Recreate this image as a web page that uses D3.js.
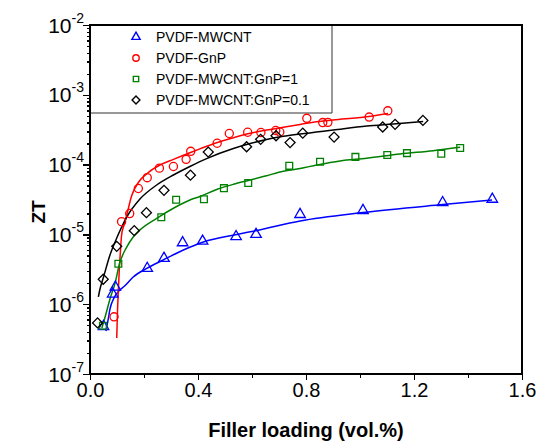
<!DOCTYPE html>
<meta charset="utf-8">
<style>
body { margin: 0; background: #fff; }
.chart text { font-family: Arial, "Liberation Sans", sans-serif; fill: #000; }
.axis path { display: none; }
.axis line { stroke: #000; stroke-width: 1.5; shape-rendering: crispEdges; }
</style>
<svg class="chart" width="536" height="442"></svg>
<script src="https://d3js.org/d3.v7.min.js"></script>
<script>

// measured points (filler loading vol.%, ZT)
var mwcntX = [0.050, 0.084, 0.094, 0.212, 0.274, 0.343, 0.417, 0.541, 0.615, 0.778, 1.011, 1.306, 1.490];
var mwcntY = [4.8e-7, 1.4e-6, 1.76e-6, 3.27e-6, 4.55e-6, 7.6e-6, 8.0e-6, 9.3e-6, 1.0e-5, 1.93e-5, 2.2e-5, 2.86e-5, 3.19e-5];

var gnpX = [0.089, 0.117, 0.147, 0.179, 0.212, 0.257, 0.309, 0.356, 0.373, 0.471, 0.516, 0.584, 0.633, 0.688, 0.703, 0.803, 0.862, 0.881, 1.034, 1.103];
var gnpY = [6.6e-7, 1.52e-5, 1.99e-5, 4.55e-5, 6.5e-5, 8.9e-5, 9.4e-5, 1.19e-4, 1.55e-4, 2.02e-4, 2.79e-4, 2.91e-4, 2.88e-4, 3.08e-4, 2.93e-4, 4.6e-4, 4.0e-4, 4.03e-4, 4.8e-4, 5.9e-4];

var hyb1X = [0.048, 0.105, 0.264, 0.319, 0.422, 0.496, 0.586, 0.738, 0.852, 0.983, 1.101, 1.174, 1.301, 1.371];
var hyb1Y = [4.9e-7, 3.8e-6, 1.76e-5, 3.14e-5, 3.18e-5, 4.6e-5, 5.44e-5, 9.6e-5, 1.10e-4, 1.29e-4, 1.37e-4, 1.46e-4, 1.43e-4, 1.73e-4];

var hyb01X = [0.028, 0.049, 0.099, 0.164, 0.209, 0.274, 0.372, 0.438, 0.580, 0.632, 0.689, 0.741, 0.788, 0.904, 1.084, 1.130, 1.233];
var hyb01Y = [5.4e-7, 2.28e-6, 6.75e-6, 1.13e-5, 2.05e-5, 4.28e-5, 7.05e-5, 1.51e-4, 1.80e-4, 2.30e-4, 2.59e-4, 2.07e-4, 2.82e-4, 2.48e-4, 3.46e-4, 3.77e-4, 4.3e-4];

// fitted curves
var mwcntFitX = [0.059, 0.067, 0.074, 0.089, 0.111, 0.126, 0.160, 0.210, 0.271, 0.346, 0.420, 0.544, 0.619, 0.778, 1.011, 1.307, 1.489];
var mwcntFitY = [4.13e-7, 5.94e-7, 8.53e-7, 1.23e-6, 1.60e-6, 1.79e-6, 2.45e-6, 3.25e-6, 4.30e-6, 5.98e-6, 7.78e-6, 9.97e-6, 1.14e-5, 1.56e-5, 2.06e-5, 2.68e-5, 3.11e-5];

var gnpFitX = [0.099, 0.102, 0.105, 0.109, 0.113, 0.117, 0.126, 0.137, 0.154, 0.179, 0.216, 0.259, 0.309, 0.370, 0.407, 0.469, 0.531, 0.593, 0.654, 0.716, 0.778, 0.840, 0.900, 1.025, 1.104];
var gnpFitY = [3.28e-7, 8.26e-7, 1.60e-6, 3.41e-6, 5.98e-6, 9.80e-6, 1.36e-5, 1.96e-5, 3.55e-5, 5.54e-5, 7.71e-5, 9.87e-5, 1.19e-4, 1.48e-4, 1.68e-4, 2.06e-4, 2.43e-4, 2.81e-4, 3.13e-4, 3.42e-4, 3.76e-4, 4.12e-4, 4.36e-4, 4.86e-4, 5.40e-4];

var hyb1FitX = [0.044, 0.059, 0.074, 0.093, 0.109, 0.136, 0.160, 0.185, 0.247, 0.309, 0.370, 0.407, 0.469, 0.531, 0.593, 0.654, 0.716, 0.778, 0.840, 0.926, 1.025, 1.148, 1.271, 1.371];
var hyb1FitY = [4.56e-7, 7.24e-7, 1.19e-6, 2.01e-6, 3.77e-6, 6.59e-6, 9.18e-6, 1.16e-5, 1.70e-5, 2.37e-5, 3.11e-5, 3.49e-5, 4.40e-5, 5.22e-5, 6.01e-5, 6.93e-5, 8.02e-5, 8.79e-5, 9.87e-5, 1.13e-4, 1.23e-4, 1.42e-4, 1.58e-4, 1.77e-4];

var hyb01FitX = [0.031, 0.037, 0.049, 0.074, 0.099, 0.136, 0.185, 0.247, 0.309, 0.370, 0.432, 0.531, 0.593, 0.654, 0.716, 0.778, 0.901, 1.025, 1.123, 1.234];
var hyb01FitY = [1.27e-6, 1.65e-6, 2.37e-6, 5.07e-6, 8.87e-6, 1.77e-5, 3.21e-5, 5.10e-5, 7.10e-5, 9.40e-5, 1.22e-4, 1.70e-4, 2.00e-4, 2.29e-4, 2.54e-4, 2.74e-4, 3.13e-4, 3.57e-4, 3.82e-4, 4.14e-4];

var seriesNames = ["PVDF-MWCNT", "PVDF-GnP", "PVDF-MWCNT:GnP=1", "PVDF-MWCNT:GnP=0.1"];
var xTicks = [0, 0.4, 0.8, 1.2, 1.6];
var xMinor = [0.2, 0.6, 1.0, 1.4];
var yExponents = [-2, -3, -4, -5, -6, -7];

var series = [
  {name: seriesNames[0], xs: mwcntX, ys: mwcntY, fx: mwcntFitX, fy: mwcntFitY, color: "#0000ff", shape: "triangle"},
  {name: seriesNames[1], xs: gnpX, ys: gnpY, fx: gnpFitX, fy: gnpFitY, color: "#ff0000", shape: "circle"},
  {name: seriesNames[2], xs: hyb1X, ys: hyb1Y, fx: hyb1FitX, fy: hyb1FitY, color: "#008000", shape: "square"},
  {name: seriesNames[3], xs: hyb01X, ys: hyb01Y, fx: hyb01FitX, fy: hyb01FitY, color: "#000000", shape: "diamond"}
];

var plotL = 90, plotR = 522, plotT = 25, plotB = 374;
var legW = 242, legH = 88;

var x = d3.scaleLinear().domain([0, 1.6]).range([plotL, plotR]);
var y = d3.scaleLog().domain([1e-7, 1e-2]).range([plotB, plotT]);

var svg = d3.select(".chart");

// y axis, major + minor log ticks
var yMinor = [];
yExponents.forEach(function(e) {
  if (e === -2) return;
  for (var k = 2; k <= 9; k++) yMinor.push(k * Math.pow(10, e));
});

svg.append("g").attr("class", "axis")
  .attr("transform", "translate(" + plotL + ",0)")
  .call(d3.axisLeft(y).tickValues(yMinor).tickSize(3).tickFormat(""));
svg.append("g").attr("class", "axis")
  .attr("transform", "translate(" + plotL + ",0)")
  .call(d3.axisLeft(y).tickValues(yExponents.map(function(e) { return Math.pow(10, e); })).tickSize(7).tickFormat(""));

var ylab = svg.append("g").selectAll("text")
  .data(yExponents)
  .enter().append("text")
  .attr("x", 84)
  .attr("y", function(e) { return y(Math.pow(10, e)) + 7.5; })
  .attr("text-anchor", "end")
  .style("font-size", "21px");
ylab.append("tspan").text("10");
ylab.append("tspan").attr("dy", -10).style("font-size", "14px").text(function(e) { return e; });

// x axis
svg.append("g").attr("class", "axis")
  .attr("transform", "translate(0," + plotB + ")")
  .call(d3.axisBottom(x).tickValues(xMinor).tickSize(4).tickFormat(""));
var xa = svg.append("g").attr("class", "axis")
  .attr("transform", "translate(0," + plotB + ")")
  .call(d3.axisBottom(x).tickValues(xTicks).tickSize(6).tickFormat(d3.format(".1f")));
xa.selectAll("text").attr("dy", 0).attr("y", 23).style("font-size", "20px");

// axis titles
svg.append("text")
  .attr("x", (plotL + plotR) / 2).attr("y", 437)
  .attr("text-anchor", "middle")
  .style("font-size", "20px").style("font-weight", "bold")
  .text("Filler loading (vol.%)");
svg.append("text")
  .attr("transform", "translate(45,212) rotate(-90)")
  .attr("text-anchor", "middle")
  .style("font-size", "19px").style("font-weight", "bold")
  .text("ZT");

// legend box
var lg = svg.append("g").attr("class", "legend");
lg.append("path")
  .attr("d", "M" + plotL + "," + plotT + "V" + (plotT + legH) + "H" + (plotL + legW) + "V" + plotT + "Z")
  .attr("fill", "#fff").attr("stroke", "#333").attr("stroke-width", 1);

function symbolPath(shape, big) {
  var s = big ? 1 : 0.62;
  if (shape === "triangle") return d3.symbol().type(d3.symbolTriangle).size(48 * s)();
  if (shape === "circle") return d3.symbol().type(d3.symbolCircle).size(52 * s)();
  return d3.symbol().type(d3.symbolSquare).size((shape === "diamond" ? 50 : 46) * s)();
}

var leg = lg.selectAll("g.item")
  .data(series)
  .enter().append("g")
  .attr("class", "item")
  .attr("transform", function(d, i) { return "translate(136," + (37 + i * 21) + ")"; });
leg.append("path")
  .attr("d", function(d) { return symbolPath(d.shape, false); })
  .attr("transform", function(d) { return d.shape === "diamond" ? "rotate(45)" : null; })
  .attr("fill", "none")
  .attr("stroke", function(d) { return d.color; })
  .attr("stroke-width", 1.4);
leg.append("text")
  .attr("x", 20).attr("y", 5)
  .style("font-size", "14px")
  .text(function(d) { return d.name; });

// fitted curves
var line = d3.line()
  .x(function(p) { return x(p[0]); })
  .y(function(p) { return y(p[1]); })
  .curve(d3.curveMonotoneX);

svg.append("g").selectAll("path")
  .data(series)
  .enter().append("path")
  .attr("d", function(d) { return line(d3.zip(d.fx, d.fy)); })
  .attr("fill", "none")
  .attr("stroke", function(d) { return d.color; })
  .attr("stroke-width", 1.5);

// markers
series.forEach(function(s) {
  svg.append("g").selectAll("path")
    .data(d3.zip(s.xs, s.ys))
    .enter().append("path")
    .attr("d", symbolPath(s.shape, true))
    .attr("transform", function(p) {
      return "translate(" + x(p[0]) + "," + y(p[1]) + ")" + (s.shape === "diamond" ? " rotate(45)" : "");
    })
    .attr("fill", "none")
    .attr("stroke", s.color)
    .attr("stroke-width", 1.3);
});

// frame
svg.append("rect")
  .attr("x", plotL).attr("y", plotT)
  .attr("width", plotR - plotL).attr("height", plotB - plotT)
  .attr("fill", "none").attr("stroke", "#000").attr("stroke-width", 2);

</script>
